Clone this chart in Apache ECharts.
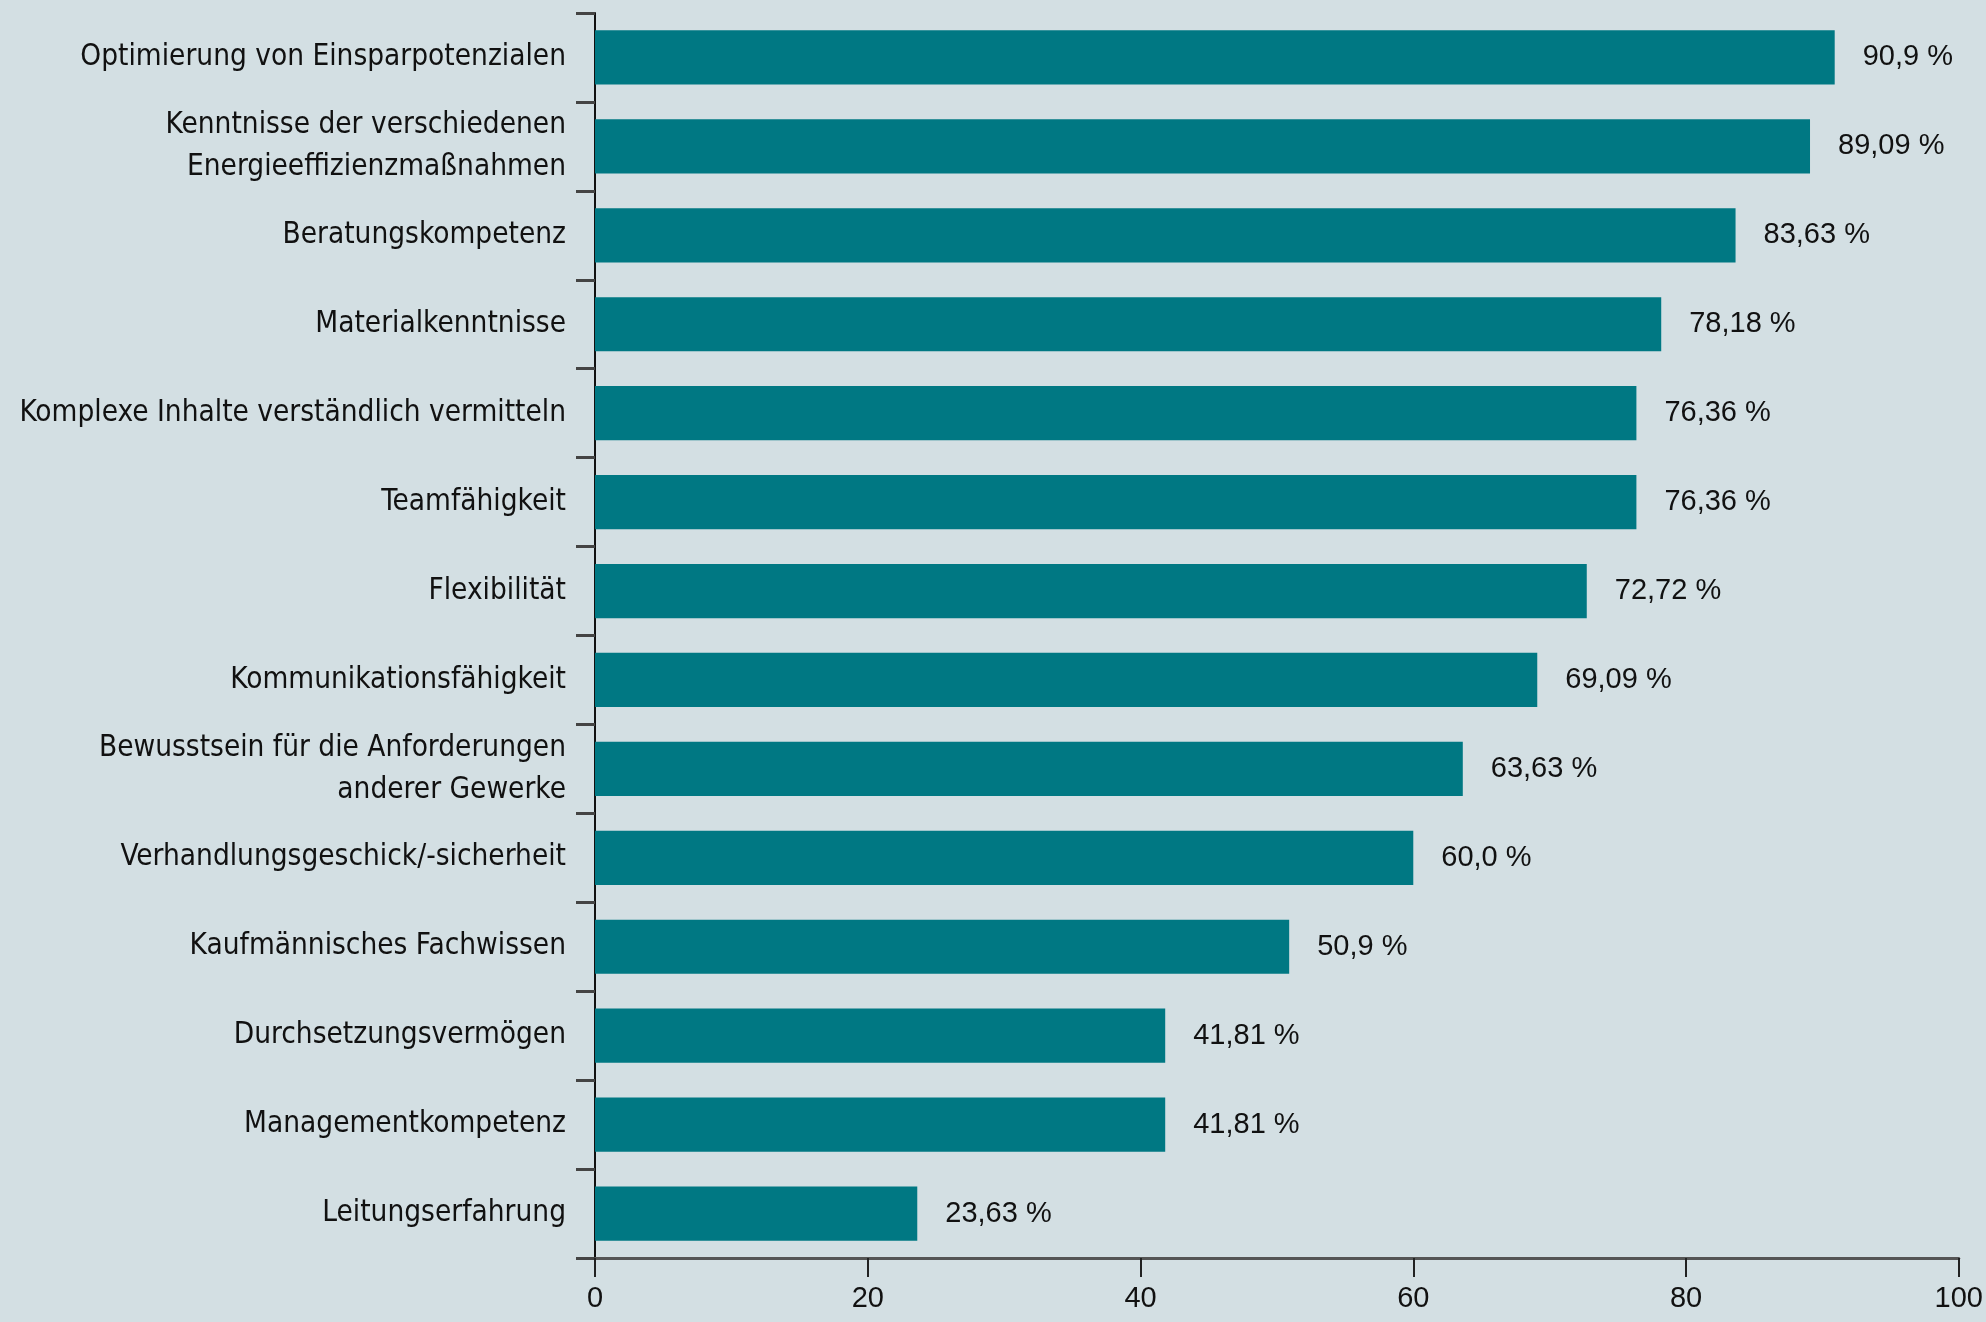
<!DOCTYPE html>
<html>
<head>
<meta charset="utf-8">
<script src="https://cdn.jsdelivr.net/npm/echarts@6/dist/echarts.min.js"></script>
<style>
html,body{margin:0;padding:0;background:#d3dfe3;}
#c{width:1986px;height:1322px;}
</style>
</head>
<body>
<div id="c"></div>
<script>
const categories = [
  "Optimierung von Einsparpotenzialen",
  "Kenntnisse der verschiedenen\nEnergieeffizienzmaßnahmen",
  "Beratungskompetenz",
  "Materialkenntnisse",
  "Komplexe Inhalte verständlich vermitteln",
  "Teamfähigkeit",
  "Flexibilität",
  "Kommunikationsfähigkeit",
  "Bewusstsein für die Anforderungen\nanderer Gewerke",
  "Verhandlungsgeschick/-sicherheit",
  "Kaufmännisches Fachwissen",
  "Durchsetzungsvermögen",
  "Managementkompetenz",
  "Leitungserfahrung"
];
const values = [90.9, 89.09, 83.63, 78.18, 76.36, 76.36, 72.72, 69.09, 63.63, 60.0, 50.9, 41.81, 41.81, 23.63];
const valueLabels = ["90,9 %", "89,09 %", "83,63 %", "78,18 %", "76,36 %", "76,36 %", "72,72 %", "69,09 %", "63,63 %", "60,0 %", "50,9 %", "41,81 %", "41,81 %", "23,63 %"];
const xTicks = [0, 20, 40, 60, 80, 100];

const chart = echarts.init(document.getElementById('c'), null, {renderer: 'canvas'});
chart.setOption({
  backgroundColor: '#d3dfe3',
  animation: false,
  grid: {left: 595, right: 25, top: 13, bottom: 64, containLabel: false},
  xAxis: {
    type: 'value',
    min: xTicks[0],
    max: xTicks[xTicks.length - 1],
    interval: 20,
    splitLine: {show: false},
    axisLine: {show: true, lineStyle: {color: '#555', width: 3}},
    axisTick: {show: true, length: 19, lineStyle: {color: '#222', width: 2}},
    axisLabel: {
      margin: 26,
      fontFamily: 'Liberation Sans',
      fontSize: 29,
      color: '#111'
    }
  },
  yAxis: {
    type: 'category',
    inverse: true,
    data: categories,
    axisLine: {show: true, onZero: false, lineStyle: {color: '#111', width: 2}},
    axisTick: {show: true, length: 19, lineStyle: {color: '#444', width: 3}},
    axisLabel: {
      margin: 29,
      fontFamily: 'DejaVu Sans Condensed',
      fontSize: 29.5,
      lineHeight: 42,
      color: '#111',
      align: 'right'
    }
  },
  series: [{
    type: 'bar',
    data: values,
    barCategoryGap: '39%',
    itemStyle: {color: '#007883'},
    label: {
      show: true,
      position: 'right',
      distance: 28,
      fontFamily: 'Liberation Sans',
      fontSize: 29,
      color: '#111',
      formatter: function (p) { return valueLabels[p.dataIndex]; }
    }
  }]
});
</script>
</body>
</html>
